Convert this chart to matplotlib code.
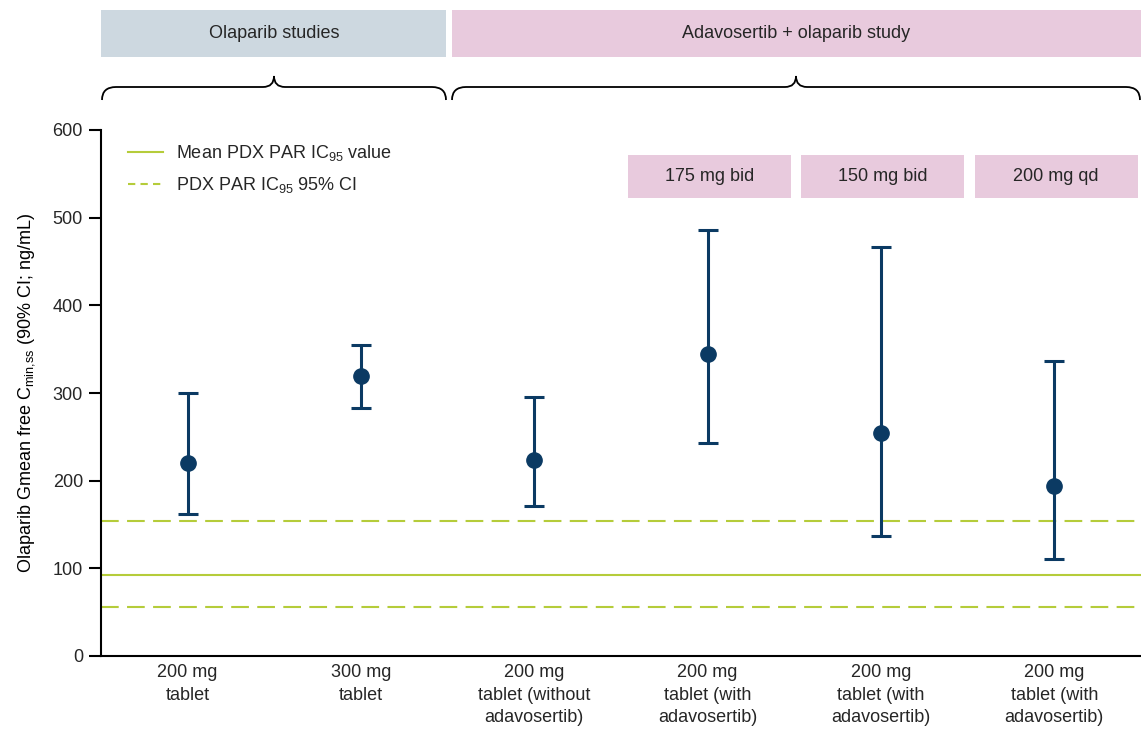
#!/usr/bin/env python3

"""
<file>    plot.py
<brief>   olaparib free Cmin,ss by study arm
"""

import matplotlib.pyplot as plt
from matplotlib.patches import Rectangle, PathPatch
from matplotlib.path import Path

plt.rcParams['font.family'] = ['Liberation Sans', 'DejaVu Sans']
plt.rcParams['mathtext.fontset'] = 'custom'
plt.rcParams['mathtext.rm'] = 'Liberation Sans'
plt.rcParams['mathtext.it'] = 'Liberation Sans'
plt.rcParams['text.color'] = '#262626'

# data
categories = ['200 mg\ntablet', '300 mg\ntablet', '200 mg\ntablet (without\nadavosertib)',
              '200 mg\ntablet (with\nadavosertib)', '200 mg\ntablet (with\nadavosertib)',
              '200 mg\ntablet (with\nadavosertib)']
gmean = [220, 319, 224, 345, 254, 194]
ci_low = [162, 283, 171, 243, 137, 111]
ci_high = [300, 355, 296, 486, 466, 337]

ic95_mean = 92
ic95_ci = [56, 154]

groups = ['Olaparib studies', 'Adavosertib + olaparib study']
doses = ['175 mg bid', '150 mg bid', '200 mg qd']
dose_idx = [3, 4, 5]

W, H = 1141, 731
FS = 13
navy = '#0b3a63'
green = '#b5cc3a'
blue_box = '#cdd8e0'
pink_box = '#e8cadd'

fig = plt.figure(figsize=(W / 100, H / 100), dpi=100)
ax = fig.add_axes([101 / W, 1 - 656 / H, 1 - 101 / W, (656 - 130) / H])

x = list(range(len(categories)))

# reference lines
ax.axhline(ic95_mean, color=green, lw=1.5, label='Mean PDX PAR IC$_{95}$ value')
for i, v in enumerate(ic95_ci):
    ax.axhline(v, color=green, lw=1.5, dashes=(8.5, 4),
               label='PDX PAR IC$_{95}$ 95% CI' if i == 0 else None)

yerr = [[g - l for g, l in zip(gmean, ci_low)], [h - g for g, h in zip(gmean, ci_high)]]
ax.errorbar(x, gmean, yerr=yerr, fmt='o', color=navy, ms=11, lw=2.2,
            capsize=7, capthick=2.2, zorder=5)

ax.set_xlim(-0.5, len(categories) - 0.5)
ax.set_ylim(0, 600)
ax.set_yticks(range(0, 601, 100))
ax.set_xticks(x)
ax.set_xticklabels(categories, fontsize=FS, linespacing=1.4)
ax.tick_params(axis='x', length=0, pad=6, labelcolor='#262626')
ax.tick_params(axis='y', length=9, width=1.5, pad=4, labelsize=FS, labelcolor='#262626')
for s in ['top', 'right']:
    ax.spines[s].set_visible(False)
for s in ['left', 'bottom']:
    ax.spines[s].set_linewidth(1.5)

ax.set_ylabel('Olaparib Gmean free C$_{\\mathregular{min{,}ss}}$ (90% CI; ng/mL)',
              fontsize=FS, labelpad=11)

leg = ax.legend(loc='upper left', bbox_to_anchor=(0.026, 0.975), frameon=False,
                fontsize=FS, handlelength=1.95, handletextpad=0.72, labelspacing=0.68,
                borderpad=0, borderaxespad=0)
leg.get_lines()[1].set_dashes((3.5, 2.5))

# dose boxes
for idx, d in zip(dose_idx, doses):
    ax.add_patch(Rectangle((idx - 0.46, 523), 0.94, 48, facecolor=pink_box,
                           edgecolor='none', clip_on=True, zorder=1))
    ax.text(idx + 0.01, 547, d, ha='center', va='center', fontsize=FS)


def fx(px):
    return px / W


def fy(py):
    return 1 - py / H


# group header boxes
fig.patches.append(Rectangle((fx(101), fy(57)), fx(446) - fx(101), fy(10) - fy(57),
                             transform=fig.transFigure, facecolor=blue_box, edgecolor='none'))
fig.patches.append(Rectangle((fx(452), fy(57)), fx(1141) - fx(452), fy(10) - fy(57),
                             transform=fig.transFigure, facecolor=pink_box, edgecolor='none'))
fig.text(fx(274), fy(34), groups[0], ha='center', va='center', fontsize=FS)
fig.text(fx(796), fy(34), groups[1], ha='center', va='center', fontsize=FS)


def brace(x0, x1, xc, yb=100, ym=87, yt=76, r=14, rt=11):
    pts = [(x0, yb), (x0, ym), (x0 + r, ym),
           (xc - rt, ym), (xc, ym), (xc, yt),
           (xc, ym), (xc + rt, ym),
           (x1 - r, ym), (x1, ym), (x1, yb)]
    codes = [Path.MOVETO, Path.CURVE3, Path.CURVE3,
             Path.LINETO, Path.CURVE3, Path.CURVE3,
             Path.CURVE3, Path.CURVE3,
             Path.LINETO, Path.CURVE3, Path.CURVE3]
    verts = [(fx(a), fy(b)) for a, b in pts]
    fig.patches.append(PathPatch(Path(verts, codes), transform=fig.transFigure,
                                 facecolor='none', edgecolor='black', lw=1.3))


brace(102, 446, 274)
brace(452, 1140, 796)

fig.savefig('out.png', dpi=100)
